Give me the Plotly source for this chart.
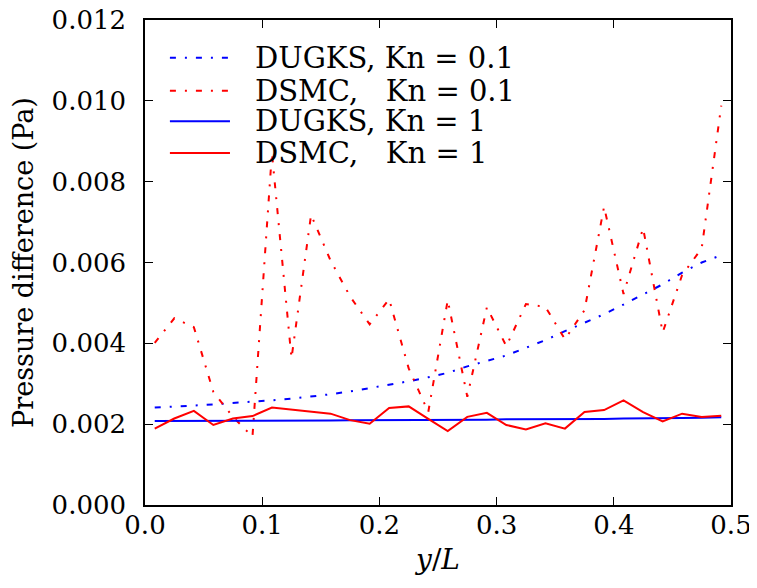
import plotly.graph_objects as go

# y/L positions (cell centres)
y_over_L = [0.0083, 0.0250, 0.0417, 0.0583, 0.0750, 0.0917, 0.1083, 0.1250, 0.1417, 0.1583,
            0.1750, 0.1917, 0.2083, 0.2250, 0.2417, 0.2583, 0.2750, 0.2917, 0.3083, 0.3250,
            0.3417, 0.3583, 0.3750, 0.3917, 0.4083, 0.4250, 0.4417, 0.4583, 0.4750, 0.4917]

dugks_kn01 = [0.00241, 0.00243, 0.00246, 0.00249, 0.00252, 0.00255, 0.00259, 0.00263, 0.00268, 0.00274,
              0.00281, 0.00289, 0.00297, 0.00306, 0.00316, 0.00327, 0.00343, 0.00356, 0.00370, 0.00389,
              0.00408, 0.00430, 0.00451, 0.00472, 0.00496, 0.00520, 0.00546, 0.00575, 0.00600, 0.00618]

dsmc_kn01 = [0.00401, 0.00462, 0.00440, 0.00280, 0.00218, 0.00169, 0.00871, 0.00363, 0.00718, 0.00605,
             0.00516, 0.00447, 0.00509, 0.00338, 0.00230, 0.00507, 0.00268, 0.00489, 0.00393, 0.00497,
             0.00490, 0.00410, 0.00482, 0.00738, 0.00522, 0.00685, 0.00427, 0.00569, 0.00635, 0.00988]

dugks_kn1 = [0.00208, 0.00208, 0.00208, 0.00208, 0.00208, 0.00209, 0.00209, 0.00209, 0.00209, 0.00209,
             0.00210, 0.00210, 0.00210, 0.00210, 0.00211, 0.00211, 0.00211, 0.00211, 0.00212, 0.00212,
             0.00212, 0.00213, 0.00213, 0.00213, 0.00214, 0.00214, 0.00215, 0.00215, 0.00216, 0.00217]

dsmc_kn1 = [0.00189, 0.00214, 0.00233, 0.00198, 0.00214, 0.00220, 0.00241, 0.00236, 0.00230, 0.00226,
            0.00210, 0.00201, 0.00240, 0.00244, 0.00213, 0.00183, 0.00218, 0.00228, 0.00198, 0.00187,
            0.00202, 0.00189, 0.00230, 0.00235, 0.00259, 0.00230, 0.00207, 0.00226, 0.00218, 0.00221]

series_names = ["DUGKS, Kn = 0.1", "DSMC,   Kn = 0.1", "DUGKS, Kn = 1", "DSMC,   Kn = 1"]

x_ticks = [0.0, 0.1, 0.2, 0.3, 0.4, 0.5]
x_tick_labels = ["0.0", "0.1", "0.2", "0.3", "0.4", "0.5"]
y_ticks = [0.000, 0.002, 0.004, 0.006, 0.008, 0.010, 0.012]
y_tick_labels = ["0.000", "0.002", "0.004", "0.006", "0.008", "0.010", "0.012"]

FONT = "DejaVu Serif"
dashdot = "6px,9px,2px,9px"
styles = [
    dict(color="#0000ff", width=2, dash=dashdot),
    dict(color="#ff0000", width=2, dash=dashdot),
    dict(color="#0000ff", width=2, dash="solid"),
    dict(color="#ff0000", width=2, dash="solid"),
]
series = [dugks_kn01, dsmc_kn01, dugks_kn1, dsmc_kn1]

fig = go.Figure()
for name, vals, st in zip(series_names, series, styles):
    fig.add_trace(go.Scatter(x=y_over_L, y=vals, mode="lines", name=name, line=st, showlegend=False))

# legend drawn in the upper-left corner of the axes (matplotlib-like, compact spacing)
leg_rows_y = [0.922, 0.854, 0.791, 0.726]
for name, st, yy in zip(series_names, styles, leg_rows_y):
    fig.add_shape(type="line", xref="paper", yref="paper", x0=0.0425, x1=0.145, y0=yy, y1=yy,
                  line=st)
    fig.add_annotation(xref="paper", yref="paper", x=0.185, y=yy, text=name, showarrow=False,
                       xanchor="left", yanchor="middle", height=30, valign="middle",
                       font=dict(family=FONT, size=29, color="black"))

axis_common = dict(showgrid=False, zeroline=False, showline=True, linecolor="black", linewidth=1.5,
                   mirror="allticks", ticks="inside", ticklen=8, tickwidth=1, tickcolor="black",
                   automargin=False, ticklabeloverflow="allow",
                   tickfont=dict(family=FONT, size=26, color="black"))

fig.update_xaxes(range=[0, 0.5], tickvals=x_ticks, ticktext=x_tick_labels, ticklabelstandoff=-4,
                 title=dict(text="<i>y</i>/<i>L</i>", font=dict(family=FONT, size=28, color="black"), standoff=10),
                 **axis_common)
fig.update_yaxes(range=[0, 0.012], tickvals=y_ticks, ticktext=y_tick_labels, ticklabelstandoff=12,
                 title=dict(text="Pressure difference (Pa)", font=dict(family=FONT, size=27, color="black"), standoff=10),
                 **axis_common)

# the page body adds an 8px offset, so the figure is sized 749x580 to fill the 757x588 window
fig.update_layout(
    width=749, height=580,
    margin=dict(l=137, r=26, t=12, b=83),
    paper_bgcolor="white", plot_bgcolor="white",
    font=dict(family=FONT, size=26, color="black"),
    showlegend=False,
)

fig.write_html("out.html")
